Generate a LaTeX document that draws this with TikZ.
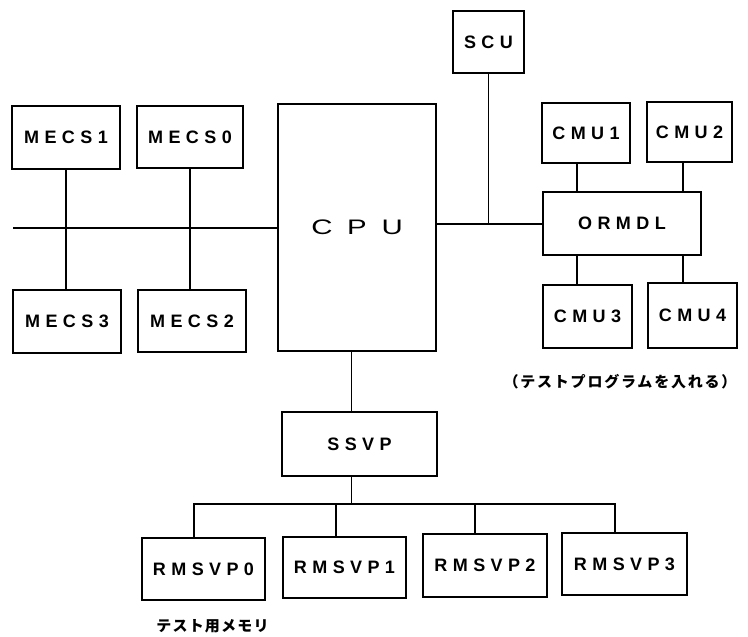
\documentclass[tikz,border=0pt]{standalone}
\usepackage{fontspec}
\usepackage{graphicx}
\newfontfamily\boxfont{Liberation Sans}[LetterSpace=30]
\newfontfamily\cpufont{Liberation Sans}
\newfontfamily\jpfont{Noto Sans CJK JP}
\begin{document}
\begin{tikzpicture}[x=1pt,y=-1pt,
  box/.style={draw, line width=1.3pt, inner sep=0pt,
    font=\boxfont\bfseries\fontsize{18}{20}\selectfont},
  wire/.style={line width=1.2pt},
  jplabel/.style={inner sep=0pt, font=\jpfont\bfseries\fontsize{15}{17}\selectfont}]
\useasboundingbox (0,0) rectangle (748,637);

% memory controllers (left)
\node[box, minimum width=108pt, minimum height=63pt] (mecs1) at (66,137.5) {MECS1};
\node[box, minimum width=106pt, minimum height=62pt] (mecs0) at (190,137) {MECS0};
\node[box, minimum width=108pt, minimum height=63pt] (mecs3) at (67,321.5) {MECS3};
\node[box, minimum width=108pt, minimum height=62pt] (mecs2) at (192,321) {MECS2};

% CPU
\node[box, minimum width=158pt, minimum height=247pt,
  font=\cpufont\fontsize{21}{23}\selectfont] (cpu) at (357,227.5)
  {\scalebox{1.4}[1]{C\hspace{10.5pt}P\hspace{10.5pt}U}};

% SCU
\node[box, minimum width=71pt, minimum height=62pt] (scu) at (488.5,42) {SCU};

% ORMDL and CMUs
\node[box, minimum width=158pt, minimum height=63pt] (ormdl) at (622,223.5) {ORMDL};
\node[box, minimum width=88pt, minimum height=60pt] (cmu1) at (586,133) {CMU1};
\node[box, minimum width=85pt, minimum height=60pt] (cmu2) at (689.5,132) {CMU2};
\node[box, minimum width=89pt, minimum height=63pt] (cmu3) at (587.5,316.5) {CMU3};
\node[box, minimum width=89pt, minimum height=65pt] (cmu4) at (692.5,315.5) {CMU4};

% SSVP and RMSVPs
\node[box, minimum width=155pt, minimum height=64pt] (ssvp) at (359.5,444) {SSVP};
\node[box, minimum width=123pt, minimum height=62pt] (rm0) at (203.5,569) {RMSVP0};
\node[box, minimum width=123pt, minimum height=61pt] (rm1) at (344.5,567.5) {RMSVP1};
\node[box, minimum width=124pt, minimum height=63pt] (rm2) at (485,565.5) {RMSVP2};
\node[box, minimum width=125pt, minimum height=62pt] (rm3) at (624.5,564) {RMSVP3};

% labels
\node[jplabel] (lab1) at (620,382) {\addfontfeature{LetterSpace=12}（テストプログラムを入れる）};
\node[jplabel] (lab2) at (212.5,626) {\addfontfeature{LetterSpace=8}テスト用メモリ};

% helper coordinates
\coordinate (busL) at (13,228);
\coordinate (jscu) at (488.5,224);
\coordinate (ca) at (577,0);
\coordinate (cb) at (683,0);
\coordinate (cs) at (351.5,0);
\coordinate (r0) at (194,504);
\coordinate (r1) at (336,504);
\coordinate (r2) at (475,504);
\coordinate (r3) at (615,504);

% left bus
\draw[wire] (busL) -- (busL -| cpu.west);
\draw[wire] (mecs1.south) -- (mecs1.south |- mecs3.north);
\draw[wire] (mecs0.south) -- (mecs0.south |- mecs2.north);

% right bus and SCU
\draw[wire] (cpu.east |- jscu) -- (jscu -| ormdl.west);
\draw[wire] (scu.south) -- (jscu);

% CMU links
\draw[wire] (cmu1.south -| ca) -- (ormdl.north -| ca);
\draw[wire] (cmu2.south -| cb) -- (ormdl.north -| cb);
\draw[wire] (ormdl.south -| ca) -- (cmu3.north -| ca);
\draw[wire] (ormdl.south -| cb) -- (cmu4.north -| cb);

% CPU - SSVP - RMSVP
\draw[wire] (cpu.south -| cs) -- (ssvp.north -| cs);
\draw[wire] (ssvp.south -| cs) -- (r0 -| cs);
\draw[wire] (rm0.north -| r0) -- (r0) -- (r3) -- (rm3.north -| r3);
\draw[wire] (r1) -- (rm1.north -| r1);
\draw[wire] (r2) -- (rm2.north -| r2);
\end{tikzpicture}
\end{document}
